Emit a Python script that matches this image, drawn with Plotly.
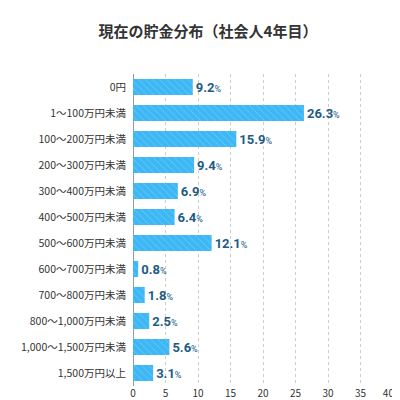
import plotly.graph_objects as go

categories = ['0円', '1〜100万円未満', '100〜200万円未満', '200〜300万円未満', '300〜400万円未満',
              '400〜500万円未満', '500〜600万円未満', '600〜700万円未満', '700〜800万円未満',
              '800〜1,000万円未満', '1,000〜1,500万円未満', '1,500万円以上']
values = [9.2, 26.3, 15.9, 9.4, 6.9, 6.4, 12.1, 0.8, 1.8, 2.5, 5.6, 3.1]
tick_vals = [0, 5, 10, 15, 20, 25, 30, 35, 40]
tick_text = ['0', '5', '10', '15', '20', '25', '30', '35', '40%']

labels = ["<b>%.1f</b><span style='font-size:9px'>%%</span>" % v for v in values]

fig = go.Figure(go.Bar(
    x=values, y=categories, orientation='h', width=0.62,
    marker=dict(color='#3db8f5', line=dict(width=0),
                pattern=dict(shape='\\', fgcolor='rgba(255,255,255,0.55)', size=5, solidity=0.15)),
    text=labels, textposition='outside', cliponaxis=False,
    textfont=dict(color='#1d5b85', size=13, family='Roboto, Noto Sans CJK JP'),
))

fig.update_layout(
    width=400, height=400,
    margin=dict(l=125, r=15, t=66, b=22, autoexpand=False),
    paper_bgcolor='white', plot_bgcolor='white',
    font=dict(family='Noto Sans CJK JP', color='#333', size=11),
    title=dict(text='<b>現在の貯金分布（社会人4年目）</b>', x=0.5, y=0.955, xanchor='center',
               font=dict(size=15, color='#333')),
    showlegend=False,
    xaxis=dict(range=[0, 40], tickvals=tick_vals, ticktext=tick_text, showgrid=True,
               gridcolor='#cccccc', griddash='dot', gridwidth=1, zeroline=True,
               zerolinecolor='#999', zerolinewidth=1, tickfont=dict(size=10, color='#333')),
    yaxis=dict(autorange='reversed', showgrid=False, ticklabelstandoff=6, automargin=False,
               tickfont=dict(size=10.5, color='#333')),
)

fig.write_html("out.html")
